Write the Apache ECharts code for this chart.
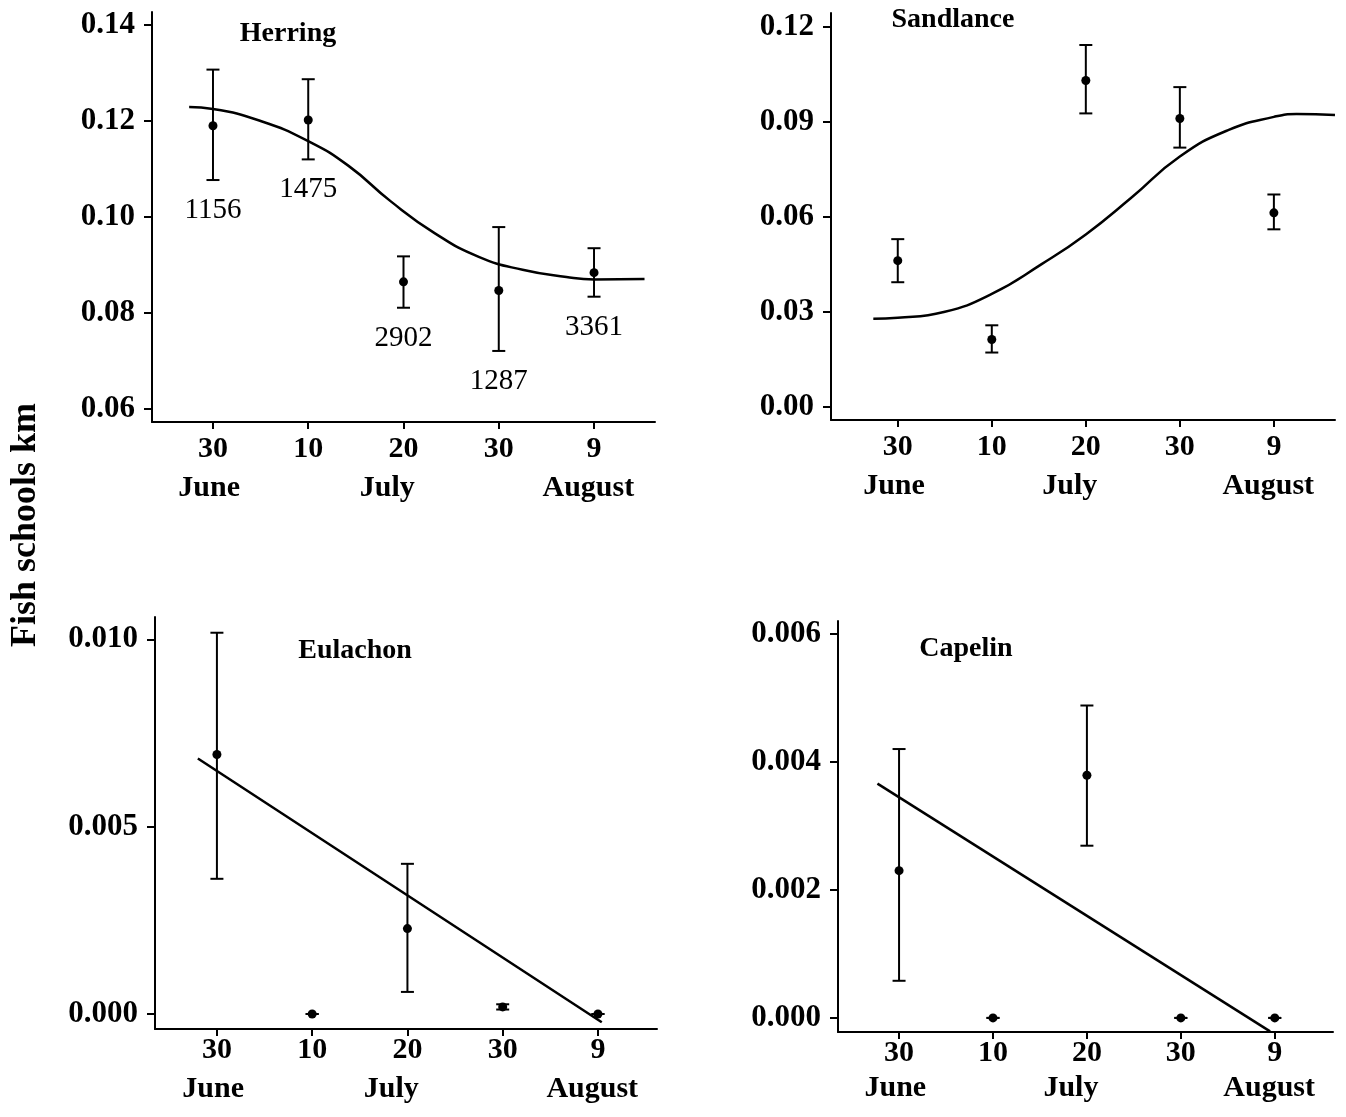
<!DOCTYPE html>
<html>
<head>
<meta charset="utf-8">
<title>Fish schools per km through the season</title>
<script src="https://cdn.jsdelivr.net/npm/echarts@6/dist/echarts.min.js"></script>
<style>
  html, body { margin: 0; padding: 0; background: #fff; }
  #chart { width: 1346px; height: 1117px; }
</style>
</head>
<body>
<div id="chart"></div>
<script>
// Survey dates as days after 30 June, with their tick labels
const days = [0, 10, 20, 30, 40];
const dayTickLabels = ['30', '10', '20', '30', '9'];
const monthNames = ['June', 'July', 'August'];
const monthCenters = [-0.4, 18.3, 39.4];

// Herring: mean schools/km with error limits, and number of km surveyed
const herringMean = [0.1190, 0.1202, 0.0865, 0.0847, 0.0884];
const herringHi   = [0.1307, 0.1287, 0.0918, 0.0979, 0.0935];
const herringLo   = [0.1077, 0.1120, 0.0811, 0.0721, 0.0834];
const herringN    = [1156, 1475, 2902, 1287, 3361];
const herringFitDays = [-2.5, 0, 5, 10, 14.2, 18.7, 23.3, 27.9, 32.5, 37.1, 40, 45.3];
const herringFit     = [0.1229, 0.1225, 0.1200, 0.1158, 0.1107, 0.1032, 0.0966, 0.0917, 0.0890, 0.0875, 0.0870, 0.0871];

// Sandlance
const sandMean = [0.0462, 0.0213, 0.1031, 0.0911, 0.0613];
const sandHi   = [0.0530, 0.0258, 0.1143, 0.1010, 0.0671];
const sandLo   = [0.0394, 0.0172, 0.0927, 0.0819, 0.0561];
const sandFitDays = [-2.6, 0, 4.9, 10, 15.3, 20, 24.8, 30, 35.2, 40, 42.4, 46.5];
const sandFit     = [0.0279, 0.0282, 0.0300, 0.0357, 0.0451, 0.0545, 0.0660, 0.0791, 0.0875, 0.0916, 0.0925, 0.0922];

// Eulachon
const eulMean = [0.00693, 0, 0.00228, 0.00019, 0];
const eulHi   = [0.01018, 0, 0.00401, 0.00026, 0];
const eulLo   = [0.00361, 0, 0.00059, 0.00012, 0];
const eulFitDays = [-2.0, 40.4];
const eulFit     = [0.00682, -0.00022];

// Capelin
const capMean = [0.00230, 0, 0.00379, 0, 0];
const capHi   = [0.00420, 0, 0.00488, 0, 0];
const capLo   = [0.00058, 0, 0.00269, 0, 0];
const capFitDays = [-2.3, 39.5];
const capFit     = [0.00366, -0.00021];

// Y tick values per panel
const herringTicks = [0.06, 0.08, 0.10, 0.12, 0.14];
const sandTicks    = [0.00, 0.03, 0.06, 0.09, 0.12];
const eulTicks     = [0.000, 0.005, 0.010];
const capTicks     = [0.000, 0.002, 0.004, 0.006];

const FONT = '"Liberation Serif", "Times New Roman", serif';

const panels = [
  { name: 'Herring', mean: herringMean, hi: herringHi, lo: herringLo, n: herringN,
    fitX: herringFitDays, fitY: herringFit, smooth: true, ticks: herringTicks, dec: 2,
    grid: { left: 152, top: 12, width: 503, height: 410 },
    xr: [-6.4, 46.4], yr: [0.0573, 0.1427], title: [288, 34],
    dayMargin: 12, monthMargin: 51 },
  { name: 'Sandlance', mean: sandMean, hi: sandHi, lo: sandLo,
    fitX: sandFitDays, fitY: sandFit, smooth: true, ticks: sandTicks, dec: 2,
    grid: { left: 831, top: 13, width: 504, height: 407 },
    xr: [-7.1, 46.5], yr: [-0.0041, 0.1244], title: [953, 20],
    dayMargin: 12, monthMargin: 51 },
  { name: 'Eulachon', mean: eulMean, hi: eulHi, lo: eulLo,
    fitX: eulFitDays, fitY: eulFit, smooth: false, ticks: eulTicks, dec: 3,
    grid: { left: 155, top: 617, width: 502, height: 412 },
    xr: [-6.5, 46.2], yr: [-0.0004, 0.0106], title: [355, 651],
    dayMargin: 6, monthMargin: 45 },
  { name: 'Capelin', mean: capMean, hi: capHi, lo: capLo,
    fitX: capFitDays, fitY: capFit, smooth: false, ticks: capTicks, dec: 3,
    grid: { left: 838, top: 621, width: 495, height: 411 },
    xr: [-6.5, 46.2], yr: [-0.00022, 0.0062], title: [966, 649],
    dayMargin: 6, monthMargin: 41 }
];

function errorBarItem(params, api) {
  const x = api.value(0);
  const pLo = api.coord([x, api.value(1)]);
  const pHi = api.coord([x, api.value(2)]);
  const hw = 6.5;
  const st = { stroke: '#000', lineWidth: 2 };
  return {
    type: 'group',
    children: [
      { type: 'line', shape: { x1: pHi[0], y1: pHi[1], x2: pLo[0], y2: pLo[1] }, style: st },
      { type: 'line', shape: { x1: pHi[0] - hw, y1: pHi[1], x2: pHi[0] + hw, y2: pHi[1] }, style: st },
      { type: 'line', shape: { x1: pLo[0] - hw, y1: pLo[1], x2: pLo[0] + hw, y2: pLo[1] }, style: st }
    ]
  };
}

const grid = [], xAxis = [], yAxis = [], series = [], graphic = [];

panels.forEach((p, i) => {
  grid.push(Object.assign({ containLabel: false }, p.grid));

  // day axis with tick marks
  xAxis.push({
    type: 'value', gridIndex: i, min: p.xr[0], max: p.xr[1],
    axisLine: { show: true, onZero: false, lineStyle: { color: '#000', width: 2 } },
    axisTick: { show: true, customValues: days, length: 7, lineStyle: { color: '#000', width: 2 } },
    axisLabel: {
      customValues: days, margin: p.dayMargin,
      formatter: v => dayTickLabels[days.indexOf(v)],
      fontFamily: FONT, fontWeight: 'bold', fontSize: 30, color: '#000'
    },
    splitLine: { show: false }
  });
  // month names under the day labels
  xAxis.push({
    type: 'value', gridIndex: i, min: p.xr[0], max: p.xr[1], position: 'bottom',
    axisLine: { show: false }, axisTick: { show: false }, splitLine: { show: false },
    axisLabel: {
      customValues: monthCenters, margin: p.monthMargin,
      formatter: v => monthNames[monthCenters.indexOf(v)],
      fontFamily: FONT, fontWeight: 'bold', fontSize: 30, color: '#000'
    }
  });

  yAxis.push({
    type: 'value', gridIndex: i, min: p.yr[0], max: p.yr[1],
    axisLine: { show: true, onZero: false, lineStyle: { color: '#000', width: 2 } },
    axisTick: { show: true, customValues: p.ticks, length: 8, lineStyle: { color: '#000', width: 2 } },
    axisLabel: {
      customValues: p.ticks, margin: 17,
      formatter: v => v.toFixed(p.dec),
      fontFamily: FONT, fontWeight: 'bold', fontSize: 31, color: '#000'
    },
    splitLine: { show: false }
  });

  const xi = i * 2;

  series.push({
    type: 'custom', xAxisIndex: xi, yAxisIndex: i,
    renderItem: errorBarItem,
    encode: { x: 0, y: [1, 2] },
    data: days.map((d, k) => [d, p.lo[k], p.hi[k]]),
    silent: true, z: 3
  });
  series.push({
    type: 'scatter', xAxisIndex: xi, yAxisIndex: i,
    symbol: 'circle', symbolSize: 9,
    itemStyle: { color: '#000', opacity: 1 },
    data: days.map((d, k) => [d, p.mean[k]]),
    silent: true, z: 4
  });
  series.push({
    type: 'line', xAxisIndex: xi, yAxisIndex: i,
    data: p.fitX.map((d, k) => [d, p.fitY[k]]),
    showSymbol: false, smooth: p.smooth ? 0.5 : false,
    lineStyle: { color: '#000', width: 2.5 },
    silent: true, z: 2
  });
  if (p.n) {
    series.push({
      type: 'scatter', xAxisIndex: xi, yAxisIndex: i,
      symbolSize: 0,
      itemStyle: { opacity: 1 },
      data: days.map((d, k) => [d, p.lo[k], p.n[k]]),
      label: {
        show: true, position: 'bottom', distance: 16,
        formatter: q => String(q.value[2]),
        fontFamily: FONT, fontSize: 29, color: '#000'
      },
      silent: true, z: 5
    });
  }

  graphic.push({
    type: 'text', x: p.title[0], y: p.title[1],
    style: {
      text: p.name, fill: '#000', align: 'center', verticalAlign: 'middle',
      font: 'bold 28px ' + FONT
    }
  });
});

graphic.push({
  type: 'text', x: 26, y: 525, rotation: Math.PI / 2,
  style: {
    text: 'Fish schools km', fill: '#000', align: 'center', verticalAlign: 'middle',
    font: 'bold 36px ' + FONT
  }
});

const chart = echarts.init(document.getElementById('chart'), null, { renderer: 'canvas' });
chart.setOption({
  backgroundColor: '#fff',
  animation: false,
  grid, xAxis, yAxis, series, graphic
});
</script>
</body>
</html>
